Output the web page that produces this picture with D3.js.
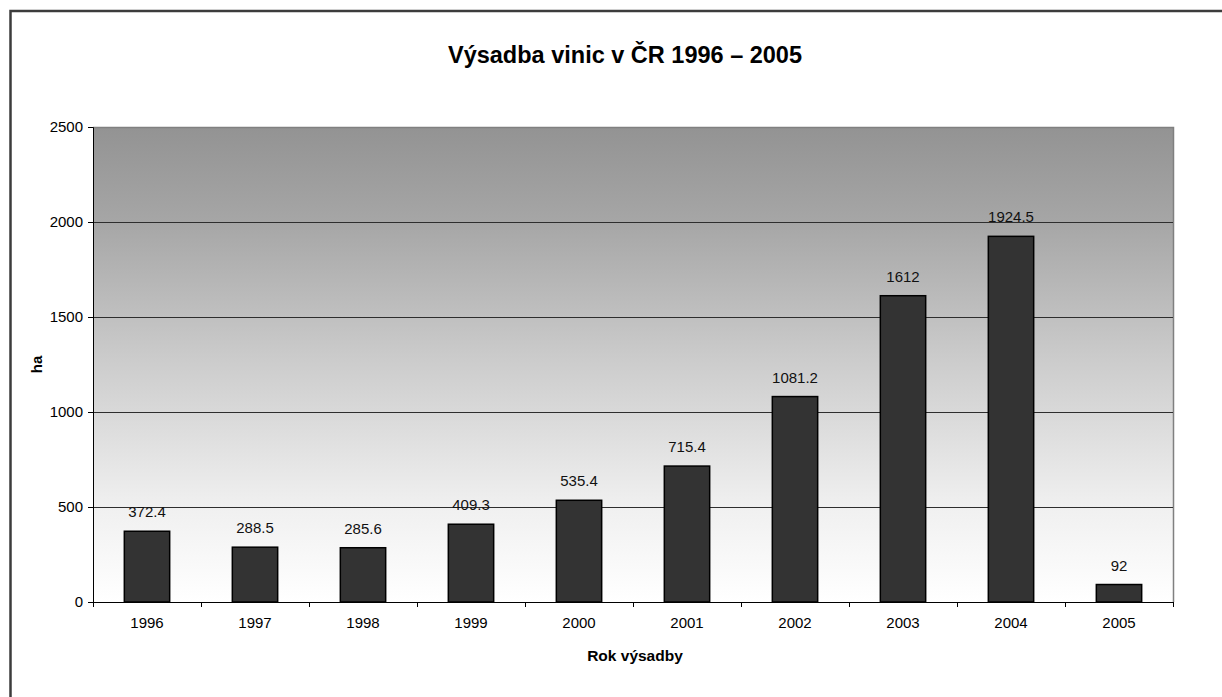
<!DOCTYPE html>
<html lang="cs">
  <head>
    <meta charset="UTF-8" />
    <title>Výsadba vinic v ČR 1996 – 2005</title>
    <script src="https://cdnjs.cloudflare.com/ajax/libs/d3/7.8.5/d3.min.js"></script>
    <style>
      html, body { margin: 0; padding: 0; background: #fff; overflow: hidden; }
      svg { display: block; font-family: "Liberation Sans", Arial, sans-serif; }
    </style>
  </head>
  <body>
    <div id="chart"></div>
    <script>
      /** Data */
      const years = ["1996", "1997", "1998", "1999", "2000", "2001", "2002", "2003", "2004", "2005"];
      const values = [372.4, 288.5, 285.6, 409.3, 535.4, 715.4, 1081.2, 1612, 1924.5, 92];
      const yTicks = [0, 500, 1000, 1500, 2000, 2500];

      /** Layout */
      const width = 1222;
      const height = 697;
      const plotLeft = 93, plotRight = 1173, plotTop = 127, plotBottom = 602;
      const barRatio = 0.42;

      const svg = d3.select("#chart").append("svg")
        .attr("width", width)
        .attr("height", height);

      // outer frame (cropped at right / bottom)
      svg.append("rect")
        .attr("x", 10.5).attr("y", 11)
        .attr("width", width + 20).attr("height", height + 20)
        .attr("fill", "#fff")
        .attr("stroke", "#3c3c3c")
        .attr("stroke-width", 2.5);

      const x = d3.scaleBand().domain(years).range([plotLeft, plotRight]);
      const y = d3.scaleLinear().domain([0, 2500]).range([plotBottom, plotTop]);

      // background gradient
      const grad = svg.append("defs").append("linearGradient")
        .attr("id", "bg").attr("x1", 0).attr("y1", 0).attr("x2", 0).attr("y2", 1);
      [[0, "#939393"], [0.2, "#a6a6a6"], [0.5, "#cdcdcd"], [0.8, "#f0f0f0"], [1, "#ffffff"]]
        .forEach(([o, c]) => grad.append("stop").attr("offset", o).attr("stop-color", c));

      svg.append("rect")
        .attr("x", plotLeft).attr("y", plotTop)
        .attr("width", plotRight - plotLeft).attr("height", plotBottom - plotTop)
        .attr("fill", "url(#bg)");

      // plot border top / right
      svg.append("path")
        .attr("d", `M${plotLeft},${plotTop + 0.5}H${plotRight + 0.5}V${plotBottom}`)
        .attr("fill", "none")
        .attr("stroke", "#808080")
        .attr("stroke-width", 1.5);

      // gridlines
      svg.append("g").selectAll("line")
        .data(yTicks.filter((t) => t > 0 && t < 2500))
        .join("line")
        .attr("x1", plotLeft).attr("x2", plotRight)
        .attr("y1", (d) => Math.round(y(d)) + 0.5)
        .attr("y2", (d) => Math.round(y(d)) + 0.5)
        .attr("stroke", "#2e2e2e")
        .attr("stroke-width", 1);

      // bars
      const bw = x.bandwidth() * barRatio;
      svg.append("g").selectAll("rect")
        .data(values)
        .join("rect")
        .attr("x", (d, i) => x(years[i]) + (x.bandwidth() - bw) / 2)
        .attr("y", (d) => y(d))
        .attr("width", bw)
        .attr("height", (d) => y(0) - y(d))
        .attr("fill", "#333333")
        .attr("stroke", "#000")
        .attr("stroke-width", 1.5);

      // value labels
      svg.append("g").selectAll("text")
        .data(values)
        .join("text")
        .attr("x", (d, i) => x(years[i]) + x.bandwidth() / 2)
        .attr("y", (d) => y(d) - 14)
        .attr("text-anchor", "middle")
        .attr("font-size", 15)
        .attr("fill", "#111")
        .text((d) => String(d));

      // y axis
      const yAxis = d3.axisLeft(y).tickValues(yTicks).tickFormat(d3.format("d"))
        .tickSize(5).tickPadding(5);
      const gy = svg.append("g").attr("transform", `translate(${plotLeft},0)`).call(yAxis);
      gy.selectAll("text").attr("font-size", 15).attr("fill", "#000").attr("font-family", null);
      gy.selectAll("line, path").attr("stroke", "#000");

      // x axis: ticks at band boundaries
      const gx = svg.append("g").attr("transform", `translate(0,${plotBottom})`);
      gx.append("line")
        .attr("x1", plotLeft).attr("x2", plotRight + 1)
        .attr("y1", 0.5).attr("y2", 0.5)
        .attr("stroke", "#000").attr("stroke-width", 1.2);
      const bounds = years.map((yr) => x(yr)).concat([x(years[years.length - 1]) + x.step()]);
      gx.selectAll("line.tick")
        .data(bounds)
        .join("line")
        .attr("class", "tick")
        .attr("x1", (d) => Math.round(d) + 0.5).attr("x2", (d) => Math.round(d) + 0.5)
        .attr("y1", 0).attr("y2", 5)
        .attr("stroke", "#000");
      gx.selectAll("text")
        .data(years)
        .join("text")
        .attr("x", (d) => x(d) + x.bandwidth() / 2)
        .attr("y", 26)
        .attr("text-anchor", "middle")
        .attr("font-size", 15)
        .text((d) => d);

      // titles
      svg.append("text")
        .attr("x", 625).attr("y", 63)
        .attr("text-anchor", "middle")
        .attr("font-size", 23.5)
        .attr("font-weight", "bold")
        .text("Výsadba vinic v ČR 1996 – 2005");

      svg.append("text")
        .attr("x", (plotLeft + plotRight) / 2 + 2).attr("y", 661)
        .attr("text-anchor", "middle")
        .attr("font-size", 15.5)
        .attr("font-weight", "bold")
        .text("Rok výsadby");

      svg.append("text")
        .attr("transform", `translate(42,${(plotTop + plotBottom) / 2}) rotate(-90)`)
        .attr("text-anchor", "middle")
        .attr("font-size", 15)
        .attr("font-weight", "bold")
        .text("ha");
    </script>
  </body>
</html>
